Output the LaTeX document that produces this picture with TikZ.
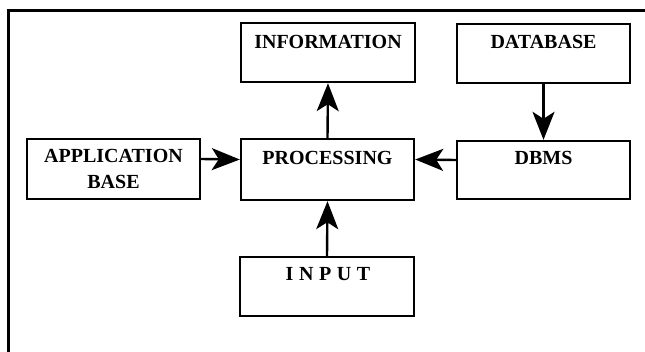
\documentclass[tikz,border=0pt]{standalone}
\usepackage{fontspec}
\setmainfont{Liberation Serif}
\usetikzlibrary{arrows.meta}
\tikzset{
  box/.style={draw, line width=2.4pt, inner sep=0pt, minimum width=173pt, minimum height=59pt},
  lbl/.style={font=\fontsize{20}{26}\selectfont\bfseries, inner sep=0pt, align=center},
  arr/.style={line width=2.4pt, -{Stealth[length=28pt, width=22pt, inset=7pt]}},
  frame/.style={line width=3pt}
}
\begin{document}
\begin{tikzpicture}[x=1pt,y=-1pt]
\useasboundingbox (0,0) rectangle (645,351);
\fill[white] (0,0) rectangle (645,351);
% frame
\draw[frame] (8,360) -- (8,10) -- (650,10);
% boxes
\node[box, minimum width=174pt] (info) at (328,52.5) {};
\node[box] (db) at (543.5,53.5) {};
\node[box, minimum height=60pt] (app) at (113.5,169) {};
\node[box, minimum height=61pt] (proc) at (327.5,169.5) {};
\node[box, minimum height=58pt] (dbms) at (543.5,170) {};
\node[box, minimum width=174pt] (inp) at (327,286.5) {};
% labels
\node[lbl] (infot) at (328,42) {INFORMATION};
\node[lbl] (dbt) at (543.5,42) {DATABASE};
\node[lbl] (appt) at (113.5,169) {APPLICATION\\BASE};
\node[lbl] (proct) at (327.5,158) {PROCESSING};
\node[lbl] (dbmst) at (543.5,158) {DBMS};
\node[lbl, font=\fontsize{20}{24}\selectfont\bfseries\addfontfeature{LetterSpace=28}] (inpt) at (328,274) {INPUT};
% connectors
\draw[arr] (proc.north) -- (info.south);
\draw[arr] (db.south) -- (dbms.north);
\draw[arr] ([yshift=10pt]app.east) -- ([yshift=10pt]proc.west);
\draw[arr] ([yshift=10pt]dbms.west) -- ([yshift=10pt]proc.east);
\draw[arr] (inp.north) -- (proc.south);
\end{tikzpicture}
\end{document}
